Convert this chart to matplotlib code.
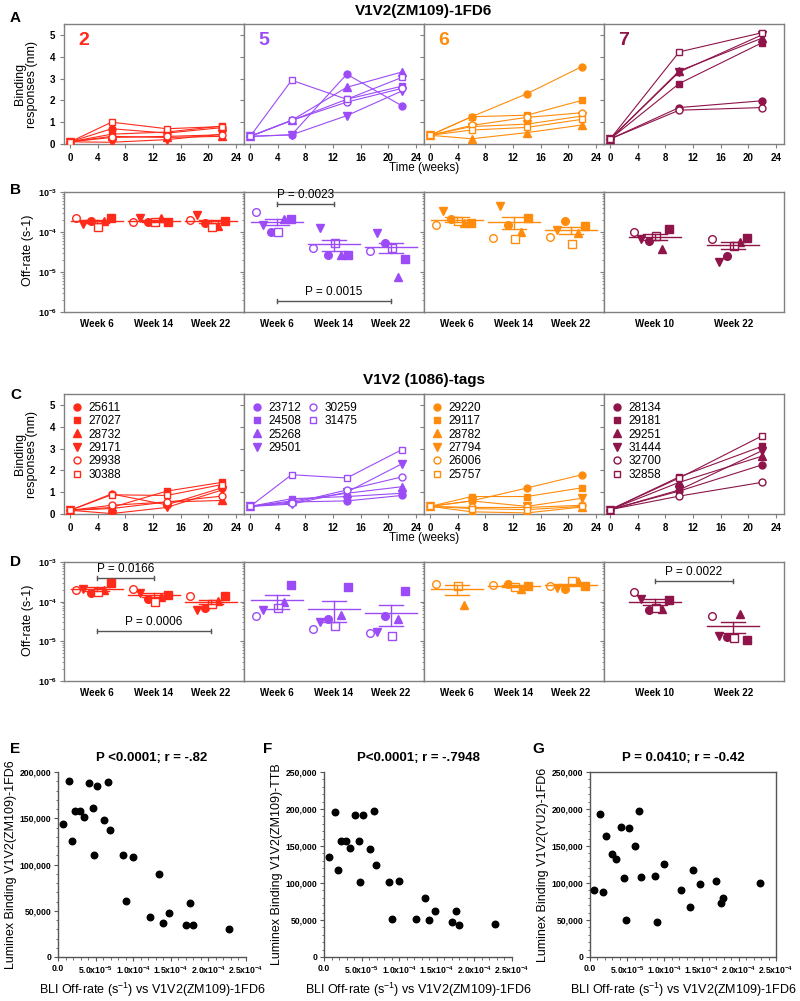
import matplotlib
matplotlib.use("Agg")
import matplotlib.pyplot as plt
import numpy as np
from matplotlib.lines import Line2D
from matplotlib.ticker import FixedLocator, LogLocator, NullFormatter, MultipleLocator, FuncFormatter

plt.rcParams["font.family"] = ["Liberation Sans", "DejaVu Sans"]
plt.rcParams["mathtext.default"] = "regular"

# ---------------- data ----------------
group_names = ["2", "5", "6", "7"]
group_colors = ["#ff2a1a", "#9b4cf7", "#ff8c0c", "#8e1449"]
markers = ["o", "s", "^", "v", "o", "s"]
filled = [True, True, True, True, False, False]

weeks_time = [[0, 6, 14, 22], [0, 6, 14, 22], [0, 6, 14, 22], [0, 10, 22]]
week_labels = [["Week 6", "Week 14", "Week 22"]] * 3 + [["Week 10", "Week 22"]]

animal_ids = [
    ["25611", "27027", "28732", "29171", "29938", "30388"],
    ["23712", "24508", "25268", "29501", "30259", "31475"],
    ["29220", "29117", "28782", "27794", "26006", "25757"],
    ["28134", "29181", "29251", "31444", "32700", "32858"],
]

# A: V1V2(ZM109)-1FD6 binding responses (nm), rows = animals
bind_zm109_g2 = [[0.1, 0.7, 0.5, 0.75], [0.1, 0.45, 0.55, 0.82], [0.1, 0.35, 0.3, 0.35],
                 [0.1, 0.08, 0.2, 0.45], [0.1, 0.3, 0.35, 0.42], [0.1, 1.0, 0.7, 0.8]]
bind_zm109_g5 = [[0.35, 0.42, 3.2, 1.75], [0.35, 1.08, 2.05, 2.65], [0.35, 1.08, 2.6, 3.3],
                 [0.35, 0.42, 1.3, 2.43], [0.35, 1.08, 1.92, 2.55], [0.35, 2.92, 2.05, 3.05]]
bind_zm109_g6 = [[0.4, 1.25, 2.3, 3.55], [0.4, 1.25, 1.32, 2.0], [0.4, 0.24, 0.52, 0.87],
                 [0.4, 0.8, 0.91, 1.28], [0.4, 0.85, 1.22, 1.43], [0.4, 0.64, 0.76, 1.13]]
bind_zm109_g7 = [[0.23, 1.67, 1.98], [0.23, 2.77, 4.64], [0.23, 3.35, 4.85],
                 [0.23, 3.3, 5.0], [0.23, 1.55, 1.67], [0.23, 4.22, 5.1]]

# C: V1V2(1086)-tags binding responses (nm)
bind_1086_g2 = [[0.17, 0.92, 0.42, 1.2], [0.17, 0.3, 1.05, 1.45], [0.17, 0.25, 0.55, 0.62],
                [0.17, 0.02, 0.3, 1.1], [0.17, 0.4, 0.55, 0.82], [0.17, 0.88, 0.85, 1.35]]
bind_1086_g5 = [[0.35, 0.55, 0.6, 0.85], [0.35, 0.7, 0.8, 0.95], [0.35, 0.6, 0.95, 1.25],
                [0.35, 0.45, 1.0, 2.3], [0.35, 0.5, 1.1, 1.7], [0.35, 1.8, 1.65, 2.95]]
bind_1086_g6 = [[0.35, 0.6, 1.19, 1.8], [0.35, 0.8, 0.8, 1.2], [0.35, 0.1, 0.05, 0.32],
                [0.35, 0.6, 0.35, 0.72], [0.35, 0.3, 0.3, 0.4], [0.35, 0.25, 0.2, 0.35]]
bind_1086_g7 = [[0.2, 1.05, 2.25], [0.2, 1.7, 3.1], [0.2, 1.45, 2.65],
                [0.2, 1.1, 2.9], [0.2, 0.82, 1.45], [0.2, 1.65, 3.58]]

# B: off-rate (x1e-4 s-1) vs V1V2(ZM109)-1FD6, rows = weeks, cols = animals
off_zm109_g2 = [[1.9, 2.2, 1.85, 1.6, 2.3, 1.35], [1.75, 1.75, 2.2, 2.3, 1.75, 1.8],
                [1.7, 1.9, 1.45, 2.65, 2.0, 1.3]]
off_zm109_g5 = [[1.0, 2.1, 2.1, 1.5, 3.2, 0.98], [0.26, 0.27, 0.26, 1.23, 0.39, 0.52],
                [0.54, 0.21, 0.076, 0.96, 0.34, 0.39]]
off_zm109_g6 = [[2.1, 1.65, 1.65, 3.4, 1.5, 1.9], [1.47, 2.2, 0.98, 4.5, 0.72, 0.66],
                [1.9, 1.44, 0.96, 1.1, 0.76, 0.5]]
off_zm109_g7 = [[0.6, 1.18, 0.37, 0.66, 0.98, 0.8], [0.25, 0.69, 0.57, 0.175, 0.66, 0.45]]

# D: off-rate (x1e-4 s-1) vs V1V2(1086)-tags
nan = np.nan
off_1086_g2 = [[1.7, 3.0, 2.0, 2.1, 2.0, 1.8], [1.15, 1.45, 1.3, 1.7, 2.1, 1.0],
               [0.7, 1.35, 1.05, 0.63, 1.35, 0.86]]
off_1086_g5 = [[nan, 2.7, 1.0, 0.6, 0.43, 0.7], [0.36, 2.4, 0.45, 0.31, 0.2, 0.24],
               [0.43, 1.9, 0.36, 0.17, 0.16, 0.135]]
off_1086_g6 = [[nan, nan, 0.84, nan, 2.8, 2.5], [2.8, 2.5, 2.1, nan, 2.6, 2.3],
               [2.1, 2.5, 3.3, 2.15, 2.5, 3.3]]
off_1086_g7 = [[0.63, 1.1, 0.65, 1.2, 1.75, 0.71], [0.13, 0.11, 0.5, 0.14, 0.44, 0.12]]

# p-value brackets: (group index, week index from, week index to, level, text)
pvals_b = [(1, 0, 1, 5e-4, "P = 0.0023"), (1, 0, 2, 1.9e-6, "P = 0.0015")]
pvals_d = [(0, 0, 1, 4e-4, "P = 0.0166"), (0, 0, 2, 1.8e-5, "P = 0.0006"),
           (3, 0, 1, 3.3e-4, "P = 0.0022")]

# E-G: BLI off-rate vs Luminex binding
bli_offrate = [0.6e-5, 1.4e-5, 1.8e-5, 2.2e-5, 2.9e-5, 3.5e-5, 4.1e-5, 4.6e-5, 4.8e-5,
               5.2e-5, 6.1e-5, 6.6e-5, 6.9e-5, 8.7e-5, 9.0e-5, 10.0e-5, 12.2e-5, 13.4e-5,
               13.9e-5, 14.8e-5, 17.0e-5, 17.6e-5, 17.9e-5, 22.8e-5]
lum_zm109_1fd6 = [143300, 190200, 125200, 157500, 157500, 151000, 187800, 161400, 110300,
                  185000, 148500, 189200, 137700, 110300, 60900, 107800, 43100, 90100,
                  36900, 47600, 34800, 58800, 34800, 29900]
lum_zm109_ttb = [135650, 195650, 117000, 156100, 156100, 147800, 192200, 156500, 100900,
                 192200, 145700, 197400, 123900, 100900, 51700, 102200, 51700, 80000,
                 50400, 62600, 47800, 61700, 43900, 45200]
lum_yu2_1fd6 = [90000, 193900, 87800, 163500, 138700, 132600, 175700, 106500, 49600,
                174300, 150400, 197000, 108300, 109100, 47800, 125700, 90000, 67800,
                117000, 98700, 102200, 72600, 80400, 100400]

# ---------------- layout ----------------
W, H = 800, 1001
fig = plt.figure(figsize=(W / 100, H / 100), dpi=100)
SPINE = "#808080"


def rect(x0, y0, x1, y1):
    return [x0 / W, 1 - y1 / H, (x1 - x0) / W, (y1 - y0) / H]


def style_box(ax, color=SPINE):
    for s in ax.spines.values():
        s.set_color(color)
        s.set_linewidth(1.0)
    ax.tick_params(which="both", colors=color, labelcolor="black", direction="out")
    ax.tick_params(which="major", length=3, labelsize=7)
    ax.tick_params(which="minor", length=1.8)


col_x = [64 + 180 * i for i in range(4)]


def time_row(y0, y1, series, numbers=False, legends=False):
    axes = []
    for g in range(4):
        ax = fig.add_axes(rect(col_x[g], y0, col_x[g] + 180, y1))
        c = group_colors[g]
        for k, vals in enumerate(series[g]):
            ax.plot(weeks_time[g], vals, color=c, lw=0.8, zorder=2)
            ax.plot(weeks_time[g], vals, linestyle="none", marker=markers[k],
                    ms=5.5 if markers[k] in "^v" else 5, mec=c, mew=1.0,
                    mfc=c if filled[k] else "white", zorder=3, label=animal_ids[g][k])
        ax.set_xlim(-0.9, 25.2)
        ax.set_ylim(0, 5.5)
        ax.xaxis.set_major_locator(MultipleLocator(4))
        ax.yaxis.set_major_locator(MultipleLocator(1))
        style_box(ax)
        for lab in ax.get_xticklabels() + ax.get_yticklabels():
            lab.set_fontweight("bold")
        if g > 0:
            ax.set_yticklabels([])
        if numbers:
            ax.text(0.08, 0.93, group_names[g], transform=ax.transAxes, color=c,
                    fontsize=14, fontweight="bold", va="top", ha="left")
        if legends:
            h, l = ax.get_legend_handles_labels()
            h, l = h[:6], l[:6]
            ncol = 1
            if g == 1:
                blank = Line2D([], [], linestyle="none")
                h = h + [blank, blank]
                l = l + ["", ""]
                ncol = 2
            ax.legend(h, l, loc="upper left", frameon=False, ncol=ncol, fontsize=8.5,
                      handlelength=0.9, handletextpad=0.5, labelspacing=0.12,
                      borderpad=0.35, borderaxespad=0.3, columnspacing=0.6)
        axes.append(ax)
    return axes


def offrate_row(y0, y1, series, pvals):
    axes = []
    for g in range(4):
        ax = fig.add_axes(rect(col_x[g], y0, col_x[g] + 180, y1))
        c = group_colors[g]
        nw = len(series[g])
        ppu = 57.0 if nw == 3 else 78.0  # pixels per x unit
        jitter = np.array([-6, 14, 7, -14, -21, 1]) / ppu
        for w, vals in enumerate(series[g]):
            v = np.array(vals, dtype=float) * 1e-4
            xc = w + 1
            for k in range(6):
                if np.isnan(v[k]):
                    continue
                ax.plot(xc + jitter[k], v[k], linestyle="none", marker=markers[k],
                        ms=6 if markers[k] in "^v" else 5.5, mec=c, mew=1.0,
                        mfc=c if filled[k] else "white", zorder=3)
            ok = v[~np.isnan(v)]
            m = ok.mean()
            sem = ok.std(ddof=1) / np.sqrt(len(ok))
            hw, cw = 26 / ppu, 12 / ppu
            ax.plot([xc - hw, xc + hw], [m, m], color=c, lw=1.0, zorder=4)
            ax.plot([xc, xc], [m - sem, m + sem], color=c, lw=1.0, zorder=4)
            ax.plot([xc - cw, xc + cw], [m + sem, m + sem], color=c, lw=1.0, zorder=4)
            ax.plot([xc - cw, xc + cw], [m - sem, m - sem], color=c, lw=1.0, zorder=4)
        ax.set_yscale("log")
        ax.set_ylim(1e-6, 1e-3)
        if nw == 3:
            ax.set_xlim(0.42, 3.58)
        else:
            ax.set_xlim(0.35, 2.65)
        ax.xaxis.set_major_locator(FixedLocator(range(1, nw + 1)))
        ax.set_xticklabels(week_labels[g], fontweight="bold", fontsize=7)
        ax.yaxis.set_major_locator(LogLocator(base=10, numticks=10))
        ax.yaxis.set_minor_locator(LogLocator(base=10, subs=np.arange(2, 10), numticks=10))
        ax.yaxis.set_minor_formatter(NullFormatter())
        style_box(ax)
        ax.tick_params(axis="x", length=0, pad=5)
        if g == 0:
            ax.yaxis.set_major_formatter(
                FuncFormatter(lambda v, p: r"10$^{%d}$" % round(np.log10(v))))
            ax.tick_params(axis="y", labelsize=6.5, pad=2)
            for lab in ax.get_yticklabels():
                lab.set_fontweight("bold")
        else:
            ax.set_yticklabels([])
        axes.append(ax)
    for g, w0, w1, lev, txt in pvals:
        ax = axes[g]
        ax.plot([w0 + 1, w1 + 1], [lev, lev], color="#555555", lw=1.0)
        for xe in (w0 + 1, w1 + 1):
            ax.plot([xe, xe], [lev / 1.12, lev * 1.12], color="#555555", lw=1.0)
        ax.text((w0 + w1) / 2 + 1, lev * 1.18, txt, ha="center", va="bottom", fontsize=8.5)
    return axes


# A
time_row(24, 144, [bind_zm109_g2, bind_zm109_g5, bind_zm109_g6, bind_zm109_g7], numbers=True)
fig.text(424 / W, 1 - 11 / H, "V1V2(ZM109)-1FD6", ha="center", va="center",
         fontsize=11, fontweight="bold")
fig.text(424 / W, 1 - 168 / H, "Time (weeks)", ha="center", va="center", fontsize=8.5)
fig.text(26 / W, 1 - 84 / H, "Binding\nresponses (nm)", rotation=90, ha="center",
         va="center", fontsize=9, linespacing=1.1)

# B
offrate_row(192, 312, [off_zm109_g2, off_zm109_g5, off_zm109_g6, off_zm109_g7], pvals_b)
fig.text(28 / W, 1 - 250 / H, "Off-rate (s-1)", rotation=90, ha="center", va="center",
         fontsize=9)

# C
time_row(394, 514, [bind_1086_g2, bind_1086_g5, bind_1086_g6, bind_1086_g7], legends=True)
fig.text(424 / W, 1 - 380 / H, "V1V2 (1086)-tags", ha="center", va="center",
         fontsize=11, fontweight="bold")
fig.text(424 / W, 1 - 538 / H, "Time (weeks)", ha="center", va="center", fontsize=8.5)
fig.text(26 / W, 1 - 454 / H, "Binding\nresponses (nm)", rotation=90, ha="center",
         va="center", fontsize=9, linespacing=1.1)

# D
offrate_row(562, 681, [off_1086_g2, off_1086_g5, off_1086_g6, off_1086_g7], pvals_d)
fig.text(28 / W, 1 - 620 / H, "Off-rate (s-1)", rotation=90, ha="center", va="center",
         fontsize=9)

# E-G
scatter_specs = [
    ((58, 246), lum_zm109_1fd6, 200000, "P <0.0001; r = -.82",
     "Luminex Binding V1V2(ZM109)-1FD6", False),
    ((324, 512), lum_zm109_ttb, 250000, "P<0.0001; r = -.7948",
     "Luminex Binding V1V2(ZM109)-TTB", False),
    ((590, 776), lum_yu2_1fd6, 250000, "P = 0.0410; r = -0.42",
     "Luminex Binding V1V2(YU2)-1FD6", True),
]
xt = [0, 5e-5, 1e-4, 1.5e-4, 2e-4, 2.5e-4]
xt_lab = ["0.0", r"5.0x10$^{-5}$", r"1.0x10$^{-4}$", r"1.5x10$^{-4}$",
          r"2.0x10$^{-4}$", r"2.5x10$^{-4}$"]
for (x0, x1), lum, ytop, title, ylab, box in scatter_specs:
    ax = fig.add_axes(rect(x0, 772, x1, 957))
    ax.scatter(bli_offrate, lum, s=22, color="black", zorder=3)
    ax.set_xlim(0, 2.5e-4)
    ax.set_ylim(0, ytop)
    ax.set_xticks(xt)
    ax.set_xticklabels(xt_lab)
    ax.yaxis.set_major_locator(MultipleLocator(50000))
    ax.yaxis.set_minor_locator(MultipleLocator(10000))
    ax.xaxis.set_minor_locator(MultipleLocator(1e-5))
    ax.yaxis.set_major_formatter(FuncFormatter(lambda v, p: f"{int(v):,}"))
    style_box(ax, "#555555")
    ax.tick_params(which="major", labelsize=6.2, pad=2)
    for lab in ax.get_xticklabels() + ax.get_yticklabels():
        lab.set_fontweight("bold")
    if not box:
        ax.spines["top"].set_visible(False)
        ax.spines["right"].set_visible(False)
    ax.set_title(title, fontsize=9.5, fontweight="bold", pad=8)
    ax.set_ylabel(ylab, fontsize=9, labelpad=2)
    ax.set_xlabel("BLI Off-rate (s$^{-1}$) vs V1V2(ZM109)-1FD6", fontsize=9, labelpad=4)

# panel letters
for letter, x, y in [("A", 10, 18), ("B", 10, 190), ("C", 10, 395), ("D", 10, 562),
                     ("E", 10, 749), ("F", 263, 749), ("G", 532, 749)]:
    fig.text(x / W, 1 - y / H, letter, fontsize=11, fontweight="bold", ha="left", va="center")

fig.savefig("out.png", dpi=100)
